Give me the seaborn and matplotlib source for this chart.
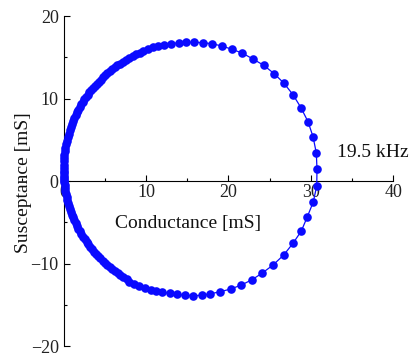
import matplotlib
matplotlib.use("Agg")
import matplotlib.pyplot as plt
import seaborn as sns
import pandas as pd
from matplotlib.ticker import MultipleLocator

# Admittance sweep (mS)
# dense arc below the origin
g_low = [0.08, 0.12, 0.17, 0.23, 0.30, 0.38, 0.46, 0.56, 0.66, 0.78,
         0.90, 1.03, 1.17, 1.32, 1.47, 1.64, 1.81, 1.99, 2.18, 2.37,
         2.58, 2.79, 3.01, 3.24, 3.47, 3.71, 3.96, 4.22, 4.48, 4.74,
         5.02, 5.30, 5.59, 5.90, 6.22, 6.55, 6.90, 7.26, 7.65]
b_low = [-0.15, -0.47, -0.82, -1.19, -1.56, -1.92, -2.29, -2.65, -3.01, -3.37,
         -3.72, -4.08, -4.42, -4.77, -5.11, -5.45, -5.78, -6.11, -6.43, -6.75,
         -7.07, -7.38, -7.68, -7.98, -8.27, -8.56, -8.84, -9.12, -9.39, -9.65,
         -9.90, -10.15, -10.39, -10.65, -10.89, -11.12, -11.36, -11.60, -11.83]

# sparse points around the resonance
g_res = [7.99, 8.59, 9.20, 9.89, 10.58, 11.26, 11.99, 12.89, 13.77, 14.71,
         15.68, 16.77, 17.82, 19.03, 20.29, 21.58, 22.88, 24.13, 25.43, 26.72,
         27.85, 28.86, 29.59, 30.32, 30.73, 30.76, 30.68, 30.28, 29.67, 28.82,
         27.85, 26.76, 25.58, 24.30, 22.99, 21.66, 20.45, 19.24, 18.02, 16.97,
         15.87, 14.90, 13.98, 13.08, 12.20, 11.43, 10.83, 10.22, 9.68]
b_res = [-12.21, -12.48, -12.73, -12.97, -13.18, -13.33, -13.49, -13.61, -13.73, -13.85,
         -13.90, -13.86, -13.67, -13.42, -13.09, -12.61, -11.96, -11.15, -10.18, -8.97,
         -7.55, -6.06, -4.33, -2.51, -0.57, 1.42, 3.39, 5.37, 7.19, 8.88,
         10.46, 11.84, 13.00, 14.02, 14.79, 15.52, 15.96, 16.36, 16.64, 16.76,
         16.81, 16.81, 16.76, 16.64, 16.52, 16.36, 16.21, 16.00, 15.80]

# dense arc above the origin
g_high = [9.25, 8.81, 8.38, 7.98, 7.58, 7.22, 6.86, 6.52, 6.20, 5.88,
          5.59, 5.30, 5.02, 4.74, 4.50, 4.25, 4.01, 3.78, 3.56, 3.34,
          3.12, 2.92, 2.72, 2.52, 2.33, 2.15, 1.98, 1.80, 1.62, 1.46,
          1.30, 1.15, 1.00, 0.86, 0.74, 0.61, 0.50, 0.39, 0.30, 0.22,
          0.16, 0.10, 0.06, 0.03, 0.01, 0.00, 0.00, 0.01, 0.02, 0.04, 0.06]
b_high = [15.54, 15.34, 15.13, 14.91, 14.69, 14.47, 14.24, 14.01, 13.77, 13.53,
          13.29, 13.05, 12.80, 12.55, 12.30, 12.06, 11.80, 11.54, 11.28, 11.01,
          10.73, 10.45, 10.17, 9.88, 9.58, 9.29, 8.99, 8.66, 8.32, 7.99,
          7.64, 7.28, 6.90, 6.52, 6.14, 5.73, 5.32, 4.90, 4.48, 4.06,
          3.64, 3.21, 2.79, 2.39, 1.99, 1.61, 1.24, 0.91, 0.59, 0.33, 0.11]

x_ticks = [0, 10, 20, 30, 40]
y_ticks = [-20, -10, 0, 10, 20]
annotation = "19.5 kHz"

df = pd.DataFrame({
    "G": g_low + g_res + g_high,
    "B": b_low + b_res + b_high,
})

sns.set_theme(style="white")
plt.rcParams['font.family'] = ['Liberation Serif', 'DejaVu Serif']

fig = plt.figure(figsize=(4.19, 3.63), dpi=100)
ax = fig.add_axes([0, 0, 1, 1])

sns.lineplot(data=df, x="G", y="B", sort=False, estimator=None, ax=ax,
             color="#0a0aff", linewidth=0.9, marker="o", markersize=6.2,
             markeredgewidth=0, zorder=3)

ax.set_xlim(-7.71, 43.14)
ax.set_ylim(-22.06, 21.94)

# Mathematica style axes crossing at the origin
for s in ["top", "right"]:
    ax.spines[s].set_visible(False)
ax.spines["left"].set_position(("data", 0))
ax.spines["bottom"].set_position(("data", 0))
ax.spines["left"].set_bounds(-20, 20)
ax.spines["bottom"].set_bounds(0, 40)
for s in ["left", "bottom"]:
    ax.spines[s].set_color("black")
    ax.spines[s].set_linewidth(0.8)

ax.set_xticks(x_ticks)
ax.set_yticks(y_ticks)
ax.xaxis.set_minor_locator(MultipleLocator(5))
ax.yaxis.set_minor_locator(MultipleLocator(5))
ax.tick_params(which="both", direction="in", bottom=True, left=True,
               color="black", width=0.8)
ax.tick_params(which="major", length=4.2, labelsize=13, labelcolor="#222222")
ax.tick_params(which="minor", length=2.3)
ax.tick_params(axis="x", pad=2)
ax.tick_params(axis="y", pad=3.5)

ax.set_xlabel("Conductance [mS]", fontsize=14, color="#111111")
ax.set_ylabel("Susceptance [mS]", fontsize=14, color="#111111")
ax.xaxis.set_label_coords(0.449, 0.383)
ax.xaxis.label.set_verticalalignment("center")
ax.yaxis.set_label_coords(0.055, 0.497)
ax.yaxis.label.set_verticalalignment("center")

ax.text(33.19, 3.45, annotation, fontsize=14, ha="left", va="center",
        color="#111111")

fig.savefig("out.png", dpi=100)
